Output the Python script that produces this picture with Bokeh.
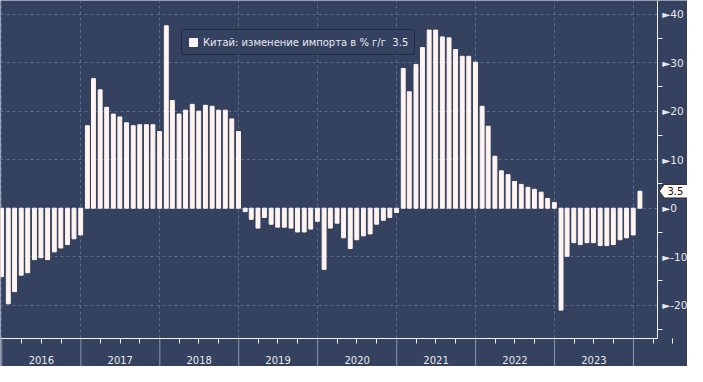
import pandas as pd
from bokeh.plotting import figure
from bokeh.models import FixedTicker, Range1d, Grid
from bokeh.core.properties import value
from bokeh.embed import file_html
from bokeh.resources import INLINE

# ---- data (YTD import change, % y/y), month-end observations ----
first_month = "2015-12-31"
v2015 = [-14.1]
v2016 = [-19.7, -17.2, -13.8, -13.3, -10.6, -10.2, -10.6, -9.0, -8.2, -7.5, -6.3, -5.5]
v2017 = [17.0, 26.7, 24.4, 20.8, 19.4, 18.8, 17.6, 17.0, 17.2, 17.2, 17.2, 15.8]
v2018 = [37.6, 22.2, 19.4, 20.2, 21.4, 20.0, 21.2, 21.0, 20.2, 20.2, 18.4, 15.8]
v2019 = [-0.7, -2.3, -4.1, -1.9, -3.3, -3.9, -3.9, -4.1, -4.9, -4.9, -4.3, -2.7]
v2020 = [-12.6, -4.1, -3.1, -6.1, -8.3, -6.5, -5.7, -5.3, -3.3, -2.5, -1.9, -0.9]
v2021 = [28.8, 24.0, 29.6, 33.1, 36.7, 36.7, 35.3, 35.1, 32.7, 31.3, 31.3, 30.1]
v2022 = [21.0, 16.9, 10.7, 7.7, 6.9, 5.5, 4.9, 4.3, 3.9, 3.3, 2.0, 1.2]
v2023 = [-21.0, -9.9, -7.1, -7.5, -7.1, -7.1, -7.7, -7.7, -7.5, -6.5, -6.1, -5.5]
v2024 = [3.5]
years = [2016, 2017, 2018, 2019, 2020, 2021, 2022, 2023]
y_ticks = [-20, -10, 0, 10, 20, 30, 40]
y_minor = [-25, -15, -5, 5, 15, 25, 35]
series_name = "Китай: изменение импорта в % г/г"

values = v2015 + v2016 + v2017 + v2018 + v2019 + v2020 + v2021 + v2022 + v2023 + v2024
dates = pd.date_range(first_month, periods=len(values), freq="ME")

BG = "#344260"
BAR = "#fff4f0"
TXT = "#e8e8ec"
GRID = "#586c93"
AX = "#f0f0f0"
FONT = "DejaVu Sans"
W, H = 687, 366

DAY = 86400000.0
def ms(d):
    return (pd.Timestamp(d) - pd.Timestamp("1970-01-01")).total_seconds() * 1000.0

# ranges: frame covers whole canvas; axes are placed at fixed locations inside
x0 = ms("2015-12-26")
x_axis = x0 + 3038 * DAY       # right axis position
x_end = x0 + 3178 * DAY
y_top = 42.8
y_axis = -26.85                # bottom axis position
y_bot = -32.62
PXX = (x_end - x0) / W         # data per pixel
PXY = (y_top - y_bot) / H

p = figure(width=W, height=H, x_axis_type="datetime", y_axis_location="right",
           output_backend="svg", toolbar_location=None,
           x_range=Range1d(x0, x_end), y_range=Range1d(y_bot, y_top),
           min_border_left=0, min_border_top=0, min_border_right=0, min_border_bottom=0)
p.background_fill_color = BG
p.border_fill_color = BG
p.outline_line_color = None
p.xgrid.visible = False
p.ygrid.visible = False

year_bounds = [ms(f"{y}-01-01") for y in years + [years[-1] + 1]]
mid_years = [ms(f"{y}-07-02") for y in years]
quarters = [ms(f"{y}-{m:02d}-01") for y in years + [years[-1] + 1] for m in (4, 7, 10)]

# grid lines (limited to the plotting area left of / above the axes)
try:
    gx = Grid(dimension=0, ticker=FixedTicker(ticks=year_bounds), cross_bounds=(y_axis, y_top),
              grid_line_color=GRID, grid_line_dash="3 3")
    gy = Grid(dimension=1, ticker=FixedTicker(ticks=y_ticks), cross_bounds=(x0, x_axis),
              grid_line_color=GRID, grid_line_dash="3 3")
    p.add_layout(gx)
    p.add_layout(gy)
except AttributeError:
    p.segment(x0=year_bounds, y0=[y_axis] * len(year_bounds), x1=year_bounds,
              y1=[y_top] * len(year_bounds), line_color=GRID, line_dash="3 3")
    p.segment(x0=[x0] * len(y_ticks), y0=y_ticks, x1=[x_axis] * len(y_ticks), y1=y_ticks,
              line_color=GRID, line_dash="3 3")

# long year separators below the axis
p.segment(x0=year_bounds, y0=[y_axis] * len(year_bounds), x1=year_bounds,
          y1=[y_bot] * len(year_bounds), line_color="#8d96a8", line_width=1)

p.vbar(x=dates, top=values, bottom=0, width=18 * DAY, color=BAR,
       legend_label=f"{series_name}  {values[-1]}")

# bottom axis: year labels centred in each year, quarter ticks
xa = p.xaxis[0]
xa.fixed_location = y_axis
xa.bounds = (x0, x_axis)
xa.ticker = FixedTicker(ticks=mid_years, minor_ticks=quarters)
xa.major_label_overrides = {t: str(y) for t, y in zip(mid_years, years)}
xa.axis_line_color = AX
xa.major_tick_line_color = None
xa.major_tick_out = 0
xa.major_tick_in = 0
xa.minor_tick_line_color = AX
xa.minor_tick_out = 5
xa.minor_tick_in = 0
xa.major_label_standoff = 13
xa.major_label_text_color = TXT
xa.major_label_text_font = FONT
xa.major_label_text_font_size = "10px"

# right axis
ya = p.yaxis[0]
ya.fixed_location = x_axis
ya.bounds = (y_axis, y_top)
ya.ticker = FixedTicker(ticks=y_ticks, minor_ticks=y_minor)
ya.major_label_overrides = {t: "►" + str(t) for t in y_ticks}
ya.axis_line_color = AX
ya.major_tick_out = 0
ya.major_tick_in = 0
ya.minor_tick_line_color = AX
ya.minor_tick_out = 5
ya.minor_tick_in = 0
ya.major_label_standoff = 0
ya.major_label_text_color = TXT
ya.major_label_text_font = FONT
ya.major_label_text_font_size = "10.5px"

# last value tag on the right axis
last = values[-1]
tip, left, right, half = x_axis + 2 * PXX, x_axis + 7 * PXX, x_end + PXX, 6.8 * PXY
p.patch(x=[tip, left, right, right, left], y=[last, last + half, last + half, last - half, last - half],
        fill_color="#fffaf5", line_color="#2a2a2a", line_width=1)
p.text(x=[(left + right) / 2 - PXX], y=[last], text=[str(last)], text_align="center",
       text_baseline="middle", text_color="#111111", text_font=value(FONT), text_font_size="10px")

lg = p.legend[0]
lg.location = (181, 311)
lg.background_fill_color = BG
lg.background_fill_alpha = 1
lg.border_line_color = "#10151f"
lg.border_line_width = 1
try:
    lg.border_radius = 4
except Exception:
    pass
lg.label_text_color = TXT
lg.label_text_font = FONT
lg.label_text_font_size = "10px"
lg.glyph_width = 10
lg.glyph_height = 10
lg.label_height = 12
lg.padding = 6
lg.spacing = 0
lg.margin = 0
lg.label_standoff = 5

open("out.html", "w").write(file_html(p, INLINE))
